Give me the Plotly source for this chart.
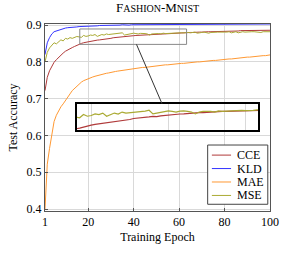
import plotly.graph_objects as go

epochs = list(range(1, 101))

cce = [0.722, 0.758, 0.776, 0.789, 0.799, 0.806, 0.813, 0.819, 0.824, 0.829,
       0.833, 0.836, 0.839, 0.842, 0.845, 0.8490, 0.8502, 0.8521, 0.8536, 0.8548,
       0.8562, 0.8570, 0.8581, 0.8592, 0.8598, 0.8605, 0.8618, 0.8614, 0.8626, 0.8640,
       0.8656, 0.8660, 0.8663, 0.8672, 0.8681, 0.8690, 0.8688, 0.8700, 0.8708, 0.8712,
       0.8718, 0.8722, 0.8729, 0.8731, 0.8738, 0.8741, 0.8744, 0.8750, 0.8752, 0.8758,
       0.8761, 0.8763, 0.8768, 0.8770, 0.8772, 0.8775, 0.8777, 0.8781, 0.8785, 0.8786,
       0.8790, 0.8792, 0.8796, 0.880, 0.880, 0.880, 0.881, 0.881, 0.881, 0.881,
       0.882, 0.882, 0.882, 0.882, 0.882, 0.883, 0.883, 0.883, 0.883, 0.883,
       0.884, 0.884, 0.884, 0.884, 0.884, 0.884, 0.885, 0.885, 0.885, 0.885,
       0.885, 0.885, 0.886, 0.886, 0.886, 0.886, 0.886, 0.886, 0.887, 0.886]

kld = [0.820, 0.852, 0.866, 0.876, 0.882, 0.884, 0.887, 0.889, 0.892, 0.892,
       0.893, 0.893, 0.894, 0.894, 0.895, 0.896, 0.896, 0.896, 0.897, 0.897,
       0.898, 0.897, 0.898, 0.898, 0.899, 0.899, 0.898, 0.899, 0.900, 0.899,
       0.900, 0.900, 0.899, 0.900, 0.901, 0.900, 0.901, 0.900, 0.901, 0.901,
       0.901, 0.902, 0.901, 0.901, 0.902, 0.901, 0.902, 0.902, 0.901, 0.902,
       0.902, 0.901, 0.902, 0.902, 0.902, 0.903, 0.902, 0.902, 0.902, 0.903,
       0.902, 0.902, 0.903, 0.902, 0.902, 0.903, 0.902, 0.903, 0.902, 0.902,
       0.903, 0.902, 0.903, 0.902, 0.903, 0.903, 0.902, 0.903, 0.902, 0.903,
       0.903, 0.902, 0.903, 0.903, 0.902, 0.903, 0.903, 0.902, 0.903, 0.903,
       0.902, 0.903, 0.903, 0.903, 0.902, 0.903, 0.903, 0.903, 0.902, 0.903]

mae = [0.400, 0.522, 0.565, 0.608, 0.638, 0.655, 0.668, 0.678, 0.686, 0.694,
       0.703, 0.713, 0.722, 0.728, 0.734, 0.740, 0.745, 0.749, 0.752, 0.755,
       0.757, 0.759, 0.761, 0.763, 0.765, 0.766, 0.768, 0.769, 0.770, 0.772,
       0.773, 0.774, 0.775, 0.776, 0.777, 0.778, 0.779, 0.780, 0.781, 0.782,
       0.782, 0.783, 0.784, 0.785, 0.785, 0.786, 0.787, 0.788, 0.788, 0.789,
       0.790, 0.790, 0.791, 0.792, 0.792, 0.793, 0.793, 0.794, 0.795, 0.795,
       0.796, 0.796, 0.797, 0.797, 0.798, 0.799, 0.799, 0.800, 0.800, 0.801,
       0.801, 0.802, 0.803, 0.803, 0.804, 0.804, 0.805, 0.805, 0.806, 0.807,
       0.807, 0.808, 0.808, 0.809, 0.810, 0.810, 0.811, 0.811, 0.812, 0.813,
       0.813, 0.814, 0.814, 0.815, 0.816, 0.816, 0.817, 0.817, 0.818, 0.819]

mse = [0.800, 0.826, 0.838, 0.846, 0.852, 0.849, 0.856, 0.860, 0.857, 0.864,
       0.862, 0.866, 0.864, 0.867, 0.869, 0.868, 0.8667, 0.872, 0.8693, 0.8705,
       0.873, 0.872, 0.8744, 0.8693, 0.872, 0.8744, 0.8729, 0.876, 0.8744, 0.875,
       0.876, 0.8755, 0.877, 0.8775, 0.879, 0.873, 0.8744, 0.876, 0.877, 0.878,
       0.877, 0.876, 0.8775, 0.878, 0.877, 0.876, 0.873, 0.876, 0.877, 0.8772,
       0.877, 0.876, 0.878, 0.877, 0.8775, 0.878, 0.8778, 0.878, 0.8786, 0.8782,
       0.8791, 0.8788, 0.8796, 0.880, 0.879, 0.880, 0.881, 0.878, 0.880, 0.880,
       0.881, 0.880, 0.878, 0.880, 0.881, 0.880, 0.881, 0.881, 0.880, 0.881,
       0.881, 0.882, 0.879, 0.881, 0.882, 0.879, 0.881, 0.882, 0.881, 0.882,
       0.881, 0.882, 0.882, 0.881, 0.882, 0.880, 0.882, 0.882, 0.883, 0.882]

names = ["CCE", "KLD", "MAE", "MSE"]
colors = ["#b03a3a", "#3333ff", "#ff9933", "#aaaa33"]
x_ticks = [1, 20, 40, 60, 80, 100]
y_ticks = [0.4, 0.5, 0.6, 0.7, 0.8, 0.9]
x_range = [1, 100]
y_range = [0.3948, 0.903]
zoom_x = [16.3, 63.3]
zoom_y = [0.8476, 0.8895]
inset_dx = [0.142, 0.9476]
inset_dy = [0.435, 0.5737]

FONT = "Liberation Serif, Times New Roman, serif"
series = [cce, kld, mae, mse]

W, H = 291, 254
ML, MR, MT, MB = 42.7, 13.7, 24, 35.3
PW, PH = W - ML - MR, H - MT - MB


def px_to_paper(px, py):
    return (px - ML) / PW, (H - MB - py) / PH


fig = go.Figure()
for name, vals, col in zip(names, series, colors):
    fig.add_trace(go.Scatter(x=epochs, y=vals, mode="lines", name=name,
                             line=dict(color=col, width=1), xaxis="x", yaxis="y",
                             showlegend=False))
for name, vals, col in zip(names, series, colors):
    if name in ("CCE", "MSE"):
        fig.add_trace(go.Scatter(x=epochs, y=vals, mode="lines", name=name,
                                 line=dict(color=col, width=1.2), xaxis="x2", yaxis="y2",
                                 showlegend=False))

# spy box on main axes
fig.add_shape(type="rect", xref="x", yref="y", x0=zoom_x[0], x1=zoom_x[1],
              y0=zoom_y[0], y1=zoom_y[1], line=dict(color="#888888", width=1))


def to_paper(xv, yv):
    return ((xv - x_range[0]) / (x_range[1] - x_range[0]),
            (yv - y_range[0]) / (y_range[1] - y_range[0]))


bx0, by0 = to_paper(zoom_x[0], zoom_y[0])
bx1, by1 = to_paper(zoom_x[1], zoom_y[1])
bcx, bcy = (bx0 + bx1) / 2, (by0 + by1) / 2
icx, icy = (inset_dx[0] + inset_dx[1]) / 2, (inset_dy[0] + inset_dy[1]) / 2
t0 = (by0 - bcy) / (icy - bcy)
t1 = (inset_dy[1] - bcy) / (icy - bcy)
fig.add_shape(type="line", xref="paper", yref="paper",
              x0=bcx + t0 * (icx - bcx), y0=by0,
              x1=bcx + t1 * (icx - bcx), y1=inset_dy[1],
              line=dict(color="#333333", width=1))

# legend box (south-east), compact like pgfplots
lx0, ly1 = px_to_paper(212.3, 150)
lx1, ly0 = px_to_paper(275, 211.7)
fig.add_shape(type="rect", xref="paper", yref="paper", x0=lx0, x1=lx1, y0=ly0, y1=ly1,
              line=dict(color="#444444", width=1), fillcolor="white", layer="above")
for i, (name, col) in enumerate(zip(names, colors)):
    cy = 160.5 + i * 14
    sx0, sy = px_to_paper(216.7, cy)
    sx1, _ = px_to_paper(236.7, cy)
    tx, _ = px_to_paper(240.5, cy)
    fig.add_shape(type="line", xref="paper", yref="paper", x0=sx0, x1=sx1, y0=sy, y1=sy,
                  line=dict(color=col, width=1), layer="above")
    fig.add_annotation(xref="paper", yref="paper", x=tx, y=sy, text=name, showarrow=False,
                       xanchor="left", yanchor="middle", font=dict(family=FONT, size=12, color="black"))

axis_common = dict(showgrid=True, gridcolor="#d9d9d9", gridwidth=1,
                   showline=True, linecolor="#555555", linewidth=1, mirror=True,
                   ticks="inside", ticklen=3, tickcolor="#555555", zeroline=False,
                   tickfont=dict(family=FONT, size=12, color="black"))

fig.update_layout(
    width=W, height=H,
    margin=dict(l=ML, r=MR, t=MT, b=MB),
    paper_bgcolor="white", plot_bgcolor="rgba(0,0,0,0)",
    font=dict(family=FONT, size=12, color="black"),
    title=dict(text='F<span style="font-size:10px">ASHION</span>-M<span style="font-size:10px">NIST</span>',
               x=0.5, xref="paper", y=1 - 3 / H, yref="container", yanchor="top",
               pad=dict(t=0, b=0, l=0, r=0),
               font=dict(family=FONT, size=13)),
    xaxis=dict(range=x_range, tickvals=x_ticks, domain=[0, 1],
               title=dict(text="Training Epoch", standoff=4, font=dict(family=FONT, size=12)),
               **axis_common),
    yaxis=dict(range=y_range, tickvals=y_ticks, tickformat=".1f", domain=[0, 1],
               title=dict(text="Test Accuracy", standoff=6, font=dict(family=FONT, size=12)),
               **axis_common),
    xaxis2=dict(range=zoom_x, domain=inset_dx, anchor="y2", showticklabels=False,
                tickvals=[20, 40, 60], showgrid=True, gridcolor="#d9d9d9", ticks="",
                showline=True, linecolor="black", linewidth=1.6, mirror=True, zeroline=False),
    yaxis2=dict(range=zoom_y, domain=inset_dy, anchor="x2", showticklabels=False,
                showgrid=False, ticks="",
                showline=True, linecolor="black", linewidth=1.6, mirror=True, zeroline=False),
    showlegend=False,
)

fig.write_html("out.html", config={"displayModeBar": False},
               post_script="document.body.style.margin='0px';document.body.style.overflow='hidden';")
